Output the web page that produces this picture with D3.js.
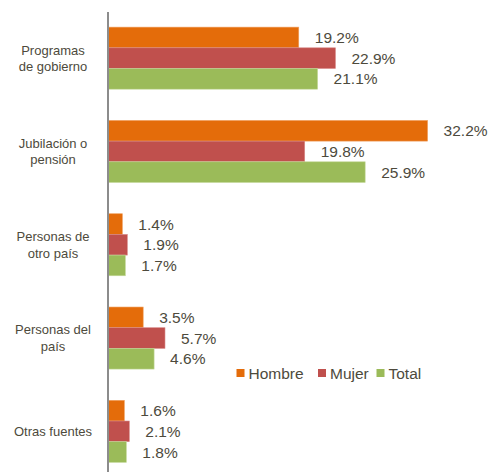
<!DOCTYPE html>
<html>
<head>
<meta charset="utf-8">
<script src="https://cdn.jsdelivr.net/npm/d3@7"></script>
<style>
  body { margin: 0; background: #fff; }
  text { font-family: "Liberation Sans", Arial, sans-serif; fill: #4d4a3c; }
</style>
</head>
<body>
<div id="chart"></div>
<script>
// Data
const categories = [
  ["Programas", "de gobierno"],
  ["Jubilación o", "pensión"],
  ["Personas de", "otro país"],
  ["Personas del", "país"],
  ["Otras fuentes"]
];
const seriesNames = ["Hombre", "Mujer", "Total"];
const hombre = [19.2, 32.2, 1.4, 3.5, 1.6];
const mujer = [22.9, 19.8, 1.9, 5.7, 2.1];
const total = [21.1, 25.9, 1.7, 4.6, 1.8];
const colors = ["#e46c0a", "#c0504d", "#9bbb59"];
const edges = ["#f0a060", "#d88a88", "#c4d89a"];

const seriesValues = [hombre, mujer, total];
const rows = categories.map((c, i) => ({
  key: i,
  label: c,
  values: seriesValues.map((s, j) => ({ series: j, value: s[i] }))
}));

const svgWidth = 489;
const svgHeight = 472;

const svg = d3
  .select("#chart")
  .append("svg")
  .attr("width", svgWidth)
  .attr("height", svgHeight);

// Scales
const x = d3.scaleLinear().domain([0, 10]).range([108.5, 207.6]);

const y0 = d3
  .scaleBand()
  .domain(rows.map((d) => d.key))
  .range([11.5, 478])
  .paddingInner(0.335)
  .paddingOuter(0.1675);

const y1 = d3
  .scaleBand()
  .domain([0, 1, 2])
  .range([0, y0.bandwidth()]);

// Bars
const groups = svg
  .selectAll(".group")
  .data(rows)
  .enter()
  .append("g")
  .attr("transform", (d) => `translate(0, ${y0(d.key)})`);

groups
  .selectAll("rect")
  .data((d) => d.values)
  .enter()
  .append("rect")
  .attr("x", x(0))
  .attr("y", (d) => y1(d.series))
  .attr("width", (d) => x(d.value) - x(0))
  .attr("height", y1.bandwidth())
  .attr("fill", (d) => colors[d.series])
  .attr("stroke", (d) => edges[d.series])
  .attr("stroke-width", 0.6);

// Value labels
groups
  .selectAll(".val")
  .data((d) => d.values)
  .enter()
  .append("text")
  .attr("x", (d) => x(d.value) + 16)
  .attr("y", (d) => y1(d.series) + y1.bandwidth() / 2)
  .attr("dy", "0.36em")
  .style("font-size", "15.5px")
  .text((d) => d.value.toFixed(1) + "%");

// Category labels
groups
  .append("text")
  .attr("text-anchor", "middle")
  .style("font-size", "13px")
  .each(function (d) {
    const t = d3.select(this);
    const n = d.label.length;
    d.label.forEach((line, i) => {
      t.append("tspan")
        .attr("x", 53)
        .attr("y", y0.bandwidth() / 2 + (i - (n - 1) / 2) * 16.5)
        .attr("dy", "0.36em")
        .text(line);
    });
  });

// Axis line
svg
  .append("g")
  .attr("transform", `translate(${x(0) - 0.5}, 0)`)
  .call(d3.axisLeft(y0).tickSize(0).tickFormat(""))
  .call((g) => g.select(".domain").attr("stroke", "#8c8c8c").attr("stroke-width", 2).attr("d", "M0,12V472"));

// Legend
const legendX = [236.5, 318, 376.5];
const legend = svg
  .selectAll(".legend")
  .data(seriesNames)
  .enter()
  .append("g")
  .attr("transform", (d, i) => `translate(${legendX[i]}, 373)`);

legend
  .append("rect")
  .attr("x", 0)
  .attr("y", -4)
  .attr("width", 8)
  .attr("height", 8)
  .attr("fill", (d, i) => colors[i]);

legend
  .append("text")
  .attr("x", 12)
  .attr("dy", "0.36em")
  .style("font-size", "15.5px")
  .text((d) => d);
</script>
</body>
</html>
